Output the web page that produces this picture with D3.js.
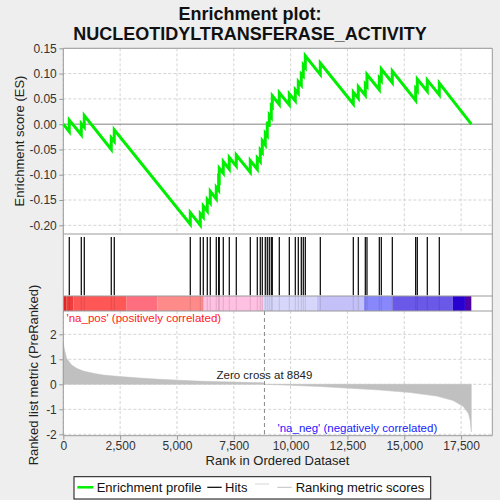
<!DOCTYPE html>
<html><head><meta charset="utf-8">
<script src="https://cdn.jsdelivr.net/npm/d3@7/dist/d3.min.js"></script>
<style>
html,body{margin:0;padding:0;background:#eeeeee;}
svg{display:block;font-family:"Liberation Sans",Arial,sans-serif;}
</style></head>
<body>
<svg id="c" width="500" height="500"></svg>
<script>
// ---- data ----
const titleLines = ["Enrichment plot:", "NUCLEOTIDYLTRANSFERASE_ACTIVITY"];
const totalGenes = 17950;
const zeroCross = 8849;
const hitRanks = [263, 791, 923, 2110, 2242, 5586, 6026, 6158, 6334, 6466, 6730, 6835, 6860, 7038, 7302, 7610, 8226, 8534, 8666, 8754, 8886, 8974, 9062, 9150, 9194, 9502, 9942, 10206, 10338, 10470, 10558, 10646, 11306, 12758, 12978, 13286, 13360, 13902, 13990, 14474, 15502, 15573, 16013, 16541];
const esBeforeHit = [-0.015, -0.021, -0.006, -0.050, -0.034, -0.198, -0.200, -0.184, -0.172, -0.156, -0.148, -0.131, -0.110, -0.097, -0.089, -0.083, -0.095, -0.089, -0.074, -0.056, -0.041, -0.023, -0.005, 0.013, 0.034, 0.039, 0.038, 0.046, 0.061, 0.077, 0.095, 0.112, 0.098, 0.040, 0.051, 0.057, 0.075, 0.068, 0.086, 0.082, 0.047, 0.066, 0.065, 0.058];
const esAfterHit = [0.008, 0.001, 0.017, -0.027, -0.011, -0.175, -0.177, -0.162, -0.149, -0.133, -0.125, -0.108, -0.087, -0.074, -0.066, -0.061, -0.072, -0.067, -0.051, -0.033, -0.018, 0.005, 0.018, 0.036, 0.056, 0.062, 0.060, 0.068, 0.084, 0.099, 0.117, 0.135, 0.121, 0.063, 0.074, 0.079, 0.098, 0.091, 0.109, 0.105, 0.070, 0.089, 0.087, 0.081];
const metricRanks = [0, 40, 73, 147, 220, 367, 587, 880, 1320, 1760, 2493, 3520, 4253, 5133, 6160, 7480, 8800, 8849, 9970, 11290, 12610, 13930, 15250, 16420, 17150, 17600, 17820, 17900, 17950];
const metricValues = [1.64, 1.45, 1.31, 1.04, 0.95, 0.77, 0.64, 0.53, 0.44, 0.37, 0.31, 0.24, 0.20, 0.16, 0.12, 0.09, 0.06, 0.0, -0.04, -0.09, -0.16, -0.23, -0.33, -0.47, -0.65, -0.89, -1.16, -1.45, -1.9];
const barStarts = [0, 147, 440, 2786, 4132, 6160, 8800, 11150, 13230, 14480, 17130, 17670];
const barEnds = [147, 440, 2786, 4132, 6160, 8800, 11150, 13230, 14480, 17130, 17670, 17950];
const barColors = ["#e02424", "#f03c3c", "#ff5656", "#ff6e7e", "#ff8a8a", "#ffc0e2", "#d6d6fa", "#c4c0f8", "#8888fc", "#6a58e8", "#2800d0", "#5000a8"];
const esTicks = [0.15, 0.10, 0.05, 0.00, -0.05, -0.10, -0.15, -0.20];
const metricTicks = [2, 1, 0, -1, -2];
const rankTicks = [0, 2500, 5000, 7500, 10000, 12500, 15000, 17500];
const legendItems = ["Enrichment profile", "Hits", "Ranking metric scores"];

// ---- layout ----
const svg = d3.select("#c");
const L = 63.3, R = 492.3;
const topY0 = 48.3, topY1 = 234, hitY1 = 296, barY1 = 311, botY1 = 435.7;
const x = d3.scaleLinear().domain([0, 18873]).range([L, R]);
const yES = d3.scaleLinear().domain([-0.2172, 0.15]).range([topY1, topY0]);
const yM = d3.scaleLinear().domain([-2.056, 2.932]).range([botY1, barY1]);
const frame = "#9a9a9a", grid = "#d4d4d4", tickCol = "#333";

// panels
svg.append("rect").attr("x", L).attr("y", topY0).attr("width", R - L).attr("height", botY1 - topY0).attr("fill", "#fff");

// top grid
const gTop = svg.append("g");
rankTicks.forEach(t => gTop.append("line").attr("x1", x(t)).attr("x2", x(t)).attr("y1", topY0).attr("y2", topY1)
  .attr("stroke", grid).attr("stroke-dasharray", "3,2"));
esTicks.forEach(t => { if (t !== 0) gTop.append("line").attr("x1", L).attr("x2", R).attr("y1", yES(t)).attr("y2", yES(t))
  .attr("stroke", grid).attr("stroke-dasharray", "3,2"); });
gTop.append("line").attr("x1", L).attr("x2", R).attr("y1", yES(0)).attr("y2", yES(0)).attr("stroke", "#808080").attr("stroke-width", 1);

// ES line
const esPts = [[0, 0]];
hitRanks.forEach((r, i) => { esPts.push([r, esBeforeHit[i]]); esPts.push([r, esAfterHit[i]]); });
esPts.push([totalGenes, 0]);
svg.append("path").attr("d", d3.line().x(d => x(d[0])).y(d => yES(d[1]))(esPts))
  .attr("fill", "none").attr("stroke", "#00ee00").attr("stroke-width", 3).attr("stroke-linejoin", "miter");

// hits
svg.append("g").selectAll("line").data(hitRanks).join("line")
  .attr("x1", d => x(d)).attr("x2", d => x(d)).attr("y1", 237).attr("y2", 295.3)
  .attr("stroke", "#000").attr("stroke-width", 1.2);

// color bar
svg.append("g").selectAll("rect").data(barStarts).join("rect")
  .attr("x", d => x(d)).attr("width", (d, i) => x(barEnds[i]) - x(d))
  .attr("y", hitY1).attr("height", barY1 - hitY1).attr("fill", (d, i) => barColors[i]);
svg.append("g").selectAll("line").data(hitRanks).join("line")
  .attr("x1", d => x(d)).attr("x2", d => x(d)).attr("y1", hitY1).attr("y2", barY1)
  .attr("stroke", "#000").attr("stroke-opacity", 0.12).attr("stroke-width", 1);

// bottom grid
const gBot = svg.append("g");
rankTicks.forEach(t => gBot.append("line").attr("x1", x(t)).attr("x2", x(t)).attr("y1", barY1).attr("y2", botY1)
  .attr("stroke", grid).attr("stroke-dasharray", "3,2"));
metricTicks.forEach(t => gBot.append("line").attr("x1", L).attr("x2", R).attr("y1", yM(t)).attr("y2", yM(t))
  .attr("stroke", grid).attr("stroke-dasharray", "3,2"));

// metric area
const mPts = metricRanks.map((r, i) => [r, metricValues[i]]);
svg.append("path").attr("d", d3.area().x(d => x(d[0])).y0(yM(0)).y1(d => yM(d[1]))(mPts))
  .attr("fill", "#c0c0c0").attr("stroke", "#c0c0c0").attr("stroke-width", 0.5);

// zero cross
svg.append("line").attr("x1", x(zeroCross)).attr("x2", x(zeroCross)).attr("y1", barY1).attr("y2", botY1)
  .attr("stroke", "#8a8a8a").attr("stroke-dasharray", "4,3");
svg.append("text").attr("x", x(zeroCross)).attr("y", 378.5).attr("text-anchor", "middle")
  .attr("font-size", 11.5).attr("fill", "#222").text("Zero cross at " + zeroCross);
svg.append("text").attr("x", 66.5).attr("y", 321.5).attr("font-size", 11.5).attr("fill", "#ff2020").text("'na_pos' (positively correlated)");
svg.append("text").attr("x", 277.5).attr("y", 431.5).attr("font-size", 11.5).attr("fill", "#2020ff").text("'na_neg' (negatively correlated)");

// frame
[topY0, topY1, hitY1, barY1, botY1].forEach(yy => svg.append("line").attr("x1", L).attr("x2", R).attr("y1", yy).attr("y2", yy).attr("stroke", frame));
svg.append("line").attr("x1", L).attr("x2", L).attr("y1", topY0).attr("y2", botY1).attr("stroke", frame);
svg.append("line").attr("x1", R).attr("x2", R).attr("y1", topY0).attr("y2", botY1).attr("stroke", frame);

// axes
const fmtES = v => (v < 0 ? "-" : "") + Math.abs(v).toFixed(2);
const axL = svg.append("g").attr("transform", `translate(${L},0)`)
  .call(d3.axisLeft(yES).tickValues(esTicks).tickFormat(fmtES).tickSize(4).tickPadding(2.5));
const axM = svg.append("g").attr("transform", `translate(${L},0)`)
  .call(d3.axisLeft(yM).tickValues(metricTicks).tickFormat(v => (v < 0 ? "-" : "") + Math.abs(v)).tickSize(4).tickPadding(2.5));
const axB = svg.append("g").attr("transform", `translate(0,${botY1})`)
  .call(d3.axisBottom(x).tickValues(rankTicks).tickFormat(d3.format(",")).tickSize(4).tickPadding(2));
[axL, axM, axB].forEach(a => {
  a.select(".domain").remove();
  a.selectAll("line").attr("stroke", frame);
  a.selectAll("text").attr("font-size", 12).attr("fill", tickCol).attr("font-family", "Liberation Sans, Arial, sans-serif");
});

// titles
svg.append("text").attr("x", 250).attr("y", 19.5).attr("text-anchor", "middle").attr("font-size", 18).attr("font-weight", "bold").attr("fill", "#111").text(titleLines[0]);
svg.append("text").attr("x", 250).attr("y", 40).attr("text-anchor", "middle").attr("font-size", 18).attr("font-weight", "bold").attr("fill", "#111").text(titleLines[1]);
svg.append("text").attr("transform", "translate(24,141) rotate(-90)").attr("text-anchor", "middle").attr("font-size", 13).attr("fill", "#222").text("Enrichment score (ES)");
svg.append("text").attr("transform", "translate(38,375) rotate(-90)").attr("text-anchor", "middle").attr("font-size", 13).attr("fill", "#222").text("Ranked list metric (PreRanked)");
svg.append("text").attr("x", 277.5).attr("y", 465).attr("text-anchor", "middle").attr("font-size", 13).attr("fill", "#222").text("Rank in Ordered Dataset");

// legend
const lg = svg.append("g");
lg.append("rect").attr("x", 74).attr("y", 476.7).attr("width", 356.7).attr("height", 22.3).attr("fill", "#fff").attr("stroke", "#111");
lg.append("line").attr("x1", 77.3).attr("x2", 93.3).attr("y1", 487.3).attr("y2", 487.3).attr("stroke", "#00ee00").attr("stroke-width", 2.5);
lg.append("text").attr("x", 96.7).attr("y", 491.8).attr("font-size", 13).attr("fill", "#111").text(legendItems[0]);
lg.append("line").attr("x1", 207.3).attr("x2", 221.7).attr("y1", 487.3).attr("y2", 487.3).attr("stroke", "#000").attr("stroke-width", 1.2);
lg.append("text").attr("x", 225).attr("y", 491.8).attr("font-size", 13).attr("fill", "#111").text(legendItems[1]);
lg.append("line").attr("x1", 255).attr("x2", 269).attr("y1", 484).attr("y2", 484).attr("stroke", "#d6d6d6").attr("stroke-width", 1);
lg.append("line").attr("x1", 277.3).attr("x2", 291.7).attr("y1", 487.3).attr("y2", 487.3).attr("stroke", "#c0c0c0").attr("stroke-width", 1);
lg.append("text").attr("x", 295.7).attr("y", 491.8).attr("font-size", 13).attr("fill", "#111").text(legendItems[2]);
</script>
</body></html>
